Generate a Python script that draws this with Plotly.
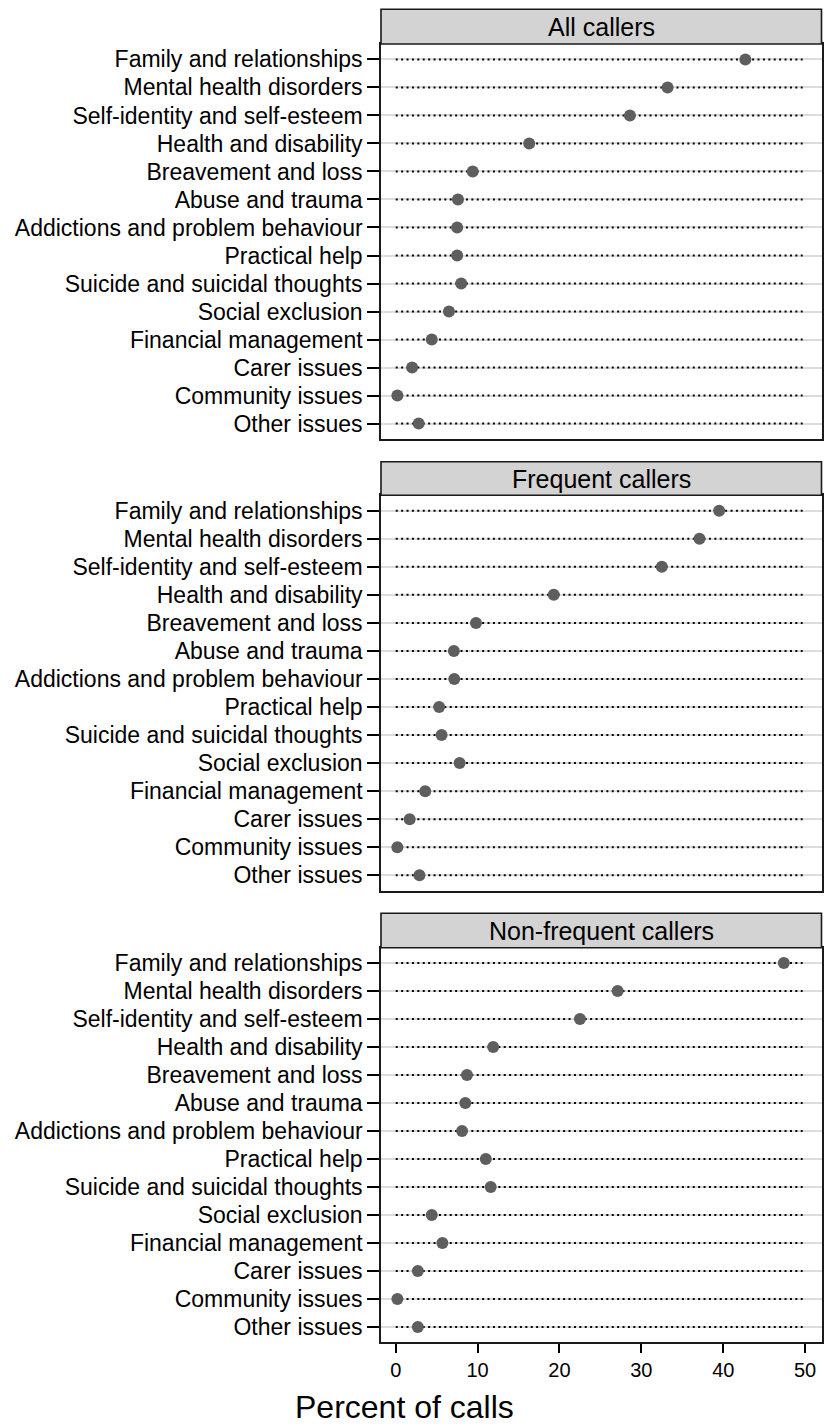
import plotly.graph_objects as go

categories = [
    "Family and relationships",
    "Mental health disorders",
    "Self-identity and self-esteem",
    "Health and disability",
    "Breavement and loss",
    "Abuse and trauma",
    "Addictions and problem behaviour",
    "Practical help",
    "Suicide and suicidal thoughts",
    "Social exclusion",
    "Financial management",
    "Carer issues",
    "Community issues",
    "Other issues",
]

panel_titles = ["All callers", "Frequent callers", "Non-frequent callers"]

all_callers = [42.7, 33.2, 28.6, 16.3, 9.4, 7.6, 7.5, 7.5, 8.0, 6.5, 4.4, 2.0, 0.2, 2.8]
frequent_callers = [39.5, 37.1, 32.5, 19.3, 9.8, 7.1, 7.15, 5.3, 5.6, 7.8, 3.6, 1.7, 0.2, 2.9]
non_frequent_callers = [47.4, 27.1, 22.5, 11.9, 8.7, 8.5, 8.1, 11.0, 11.6, 4.4, 5.7, 2.7, 0.2, 2.7]

series = [all_callers, frequent_callers, non_frequent_callers]

x_ticks = [0, 10, 20, 30, 40, 50]
x_title = "Percent of calls"

# styling
W, H = 824, 1426
FONT = "Liberation Sans, Arial, Helvetica, sans-serif"
DOT_START, DOT_END = 0, 49.7
X_RANGE = [-1.8, 52.0]
Y_RANGE = [13.55, -0.55]

# pixel geometry in the page (top, bottom) of plot areas and headers
plot_px = [(44, 439), (495.3, 890.7), (947.7, 1342.3)]
head_px = [(9.3, 44), (461.7, 495.3), (913.3, 947.7)]
x_px = (381, 821.5)


def py(p):
    return 1 - p / H


def px(p):
    return p / W


fig = go.Figure()
shapes = []
annotations = []
xdom = [px(x_px[0]), px(x_px[1])]

for i, (title, vals) in enumerate(zip(panel_titles, series)):
    n = i + 1
    xa = "x" if n == 1 else f"x{n}"
    ya = "y" if n == 1 else f"y{n}"

    # dotted guide lines
    lx, ly = [], []
    for c in categories:
        lx += [DOT_START, DOT_END, None]
        ly += [c, c, None]
    fig.add_trace(go.Scatter(
        x=lx, y=ly, mode="lines", xaxis=xa, yaxis=ya,
        line=dict(color="black", width=2, dash="2px,3.4px"),
        hoverinfo="skip", showlegend=False,
    ))
    fig.add_trace(go.Scatter(
        x=vals, y=categories, mode="markers", xaxis=xa, yaxis=ya,
        marker=dict(color="#5e5e5e", size=12, line=dict(width=0)),
        showlegend=False, name=title,
    ))

    top, bot = plot_px[i]
    last = (i == 2)
    fig.layout[f"xaxis{'' if n == 1 else n}"] = dict(
        domain=xdom, anchor=ya, range=X_RANGE, autorange=False,
        tickmode="array", tickvals=x_ticks, ticktext=[str(t) for t in x_ticks],
        showticklabels=last, ticks="outside" if last else "",
        ticklen=9, tickwidth=1.5, tickcolor="black",
        showgrid=False, zeroline=False,
        showline=True, mirror=True, linecolor="#1a1a1a", linewidth=1.6,
        tickfont=dict(family=FONT, size=20, color="black"),
        automargin=False,
    )
    fig.layout[f"yaxis{'' if n == 1 else n}"] = dict(
        domain=[py(bot), py(top)], anchor=xa,
        type="category", categoryorder="array", categoryarray=categories,
        tickmode="array", tickvals=categories, ticktext=categories,
        range=Y_RANGE, autorange=False,
        ticks="outside", ticklen=12, tickwidth=1.5, tickcolor="black",
        showgrid=True, gridcolor="#dcdcdc", gridwidth=2,
        zeroline=False,
        showline=True, mirror=True, linecolor="#1a1a1a", linewidth=1.6,
        tickfont=dict(family=FONT, size=23, color="black"),
        automargin=False,
    )

    ht, hb = head_px[i]
    shapes.append(dict(
        type="rect", xref="paper", yref="paper",
        x0=xdom[0], x1=xdom[1], y0=py(hb), y1=py(ht),
        fillcolor="#d3d3d3", line=dict(color="#1a1a1a", width=1.6), layer="above",
    ))
    annotations.append(dict(
        text=title, xref="paper", yref="paper",
        x=(xdom[0] + xdom[1]) / 2, y=py((ht + hb) / 2),
        xanchor="center", yanchor="middle", showarrow=False,
        font=dict(family=FONT, size=25, color="black"),
    ))

annotations.append(dict(
    text=x_title, xref="paper", yref="paper",
    x=px(404.5), y=py(1407), xanchor="center", yanchor="middle",
    showarrow=False, font=dict(family=FONT, size=32, color="black"),
))

fig.update_layout(
    width=W, height=H,
    margin=dict(l=0, r=0, t=0, b=0),
    paper_bgcolor="white", plot_bgcolor="white",
    shapes=shapes, annotations=annotations,
    font=dict(family=FONT, color="black"),
)

fig.write_html(
    "out.html",
    config={"displayModeBar": False},
    post_script="document.body.style.margin='0';document.body.style.overflow='hidden';",
)
